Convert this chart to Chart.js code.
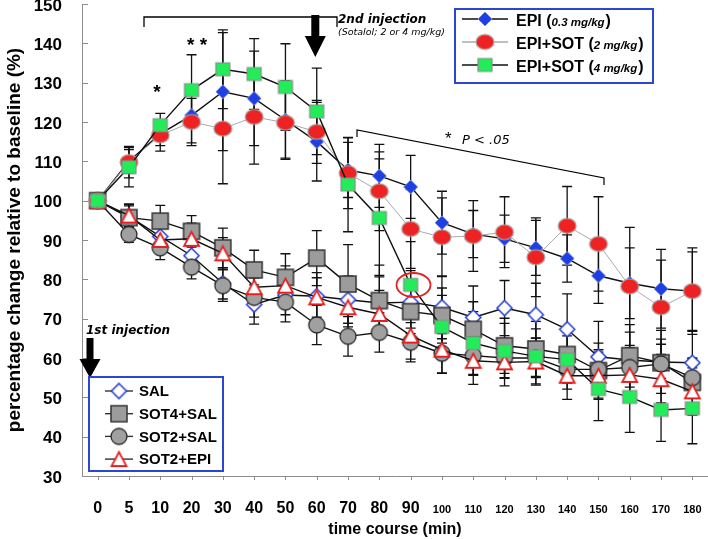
<!DOCTYPE html>
<html>
<head>
<meta charset="utf-8">
<script src="https://cdn.jsdelivr.net/npm/chart.js@4"></script>
<style>
  html, body { margin: 0; padding: 0; background: #fff; }
  #wrap { width: 708px; height: 539px; }
</style>
</head>
<body>
<div id="wrap"><canvas id="c" width="708" height="539"></canvas></div>
<script>
// time points (min)
const cats = ['0', '5', '10', '20', '30', '40', '50', '60', '70', '80', '90', '100', '110', '120', '130', '140', '150', '160', '170', '180'];

// % of baseline
const epi     = [100, 110, 117, 121.7, 127.7, 126, 120.5, 115, 107.8, 106.3, 103.5, 94.4, 91.5, 90.3, 88, 85.3, 80.9, 79, 77.6, 77];
const sot2    = [100, 109.8, 116.6, 120, 118.3, 121.3, 119.8, 117.5, 107, 102.4, 92.8, 90.7, 91, 92, 85.6, 93.6, 89, 78.2, 72.9, 77];
const sot4    = [100, 108.5, 119.2, 128.1, 133.4, 132.2, 128.9, 122.7, 104.1, 95.6, 78.6, 67.9, 63.8, 61.8, 60.4, 59.6, 52.1, 50.1, 46.8, 47.2];
const sal     = [100, 96, 90.9, 86, 79, 73.6, 76, 75.7, 74.8, 74, 74.2, 72.9, 70.3, 72.7, 71, 67.3, 60.3, 59.5, 59, 58.8];
const sot4sal = [100, 95.7, 94.8, 92.2, 88, 82.4, 80.5, 85.4, 78.8, 74.6, 71.8, 70.8, 67.3, 63.1, 62.3, 60.9, 56.8, 60.6, 58.8, 53.8];
const sot2sal = [100, 91.4, 88, 83.1, 78.4, 75.4, 74.2, 68.4, 65.5, 66.5, 64, 61.2, 60.6, 60, 60, 57.1, 57.1, 57.6, 58.5, 55];
const sot2epi = [100, 96.2, 90, 90.3, 86.6, 78, 78.4, 75.4, 72.9, 71.2, 65.7, 62.1, 59.3, 58.9, 59.1, 55.5, 55.5, 55.7, 54.6, 51.5];

// error bars (+/-)
const epiErr     = [0, 3, 3, 7, 15, 12, 10, 10, 7, 8, 8, 8, 6, 6, 7, 6, 7, 9, 10, 10];
const sot2Err    = [0, 4, 4, 6, 14, 12, 9, 8, 9, 10, 10, 10, 9, 9, 10, 10, 12, 15, 12, 11];
const sot4Err    = [0, 5, 3, 9, 10, 9, 11, 11, 12, 15, 11, 8, 8, 7, 7, 6, 8, 9, 8, 9];
const salErr     = [0, 3, 3, 4, 4, 5, 5, 6, 6, 7, 8, 8, 8, 7, 8, 9, 9, 9, 8, 8];
const sot4salErr = [0, 3, 4, 4, 5, 5, 6, 7, 10, 9, 8, 7, 7, 7, 7, 7, 7, 6, 6, 6];
const sot2salErr = [0, 2, 3, 3, 4, 5, 5, 5, 5, 5, 5, 5, 5, 5, 5, 5, 5, 5, 5, 5];
const sot2epiErr = [0, 3, 3, 4, 4, 5, 5, 5, 5, 6, 6, 6, 6, 6, 6, 6, 6, 6, 6, 6];

const yTicks = [30, 40, 50, 60, 70, 80, 90, 100, 110, 120, 130, 140, 150];

const FONT = "'Liberation Sans', Arial, Helvetica, sans-serif";
const NOTE = "'DejaVu Sans', Verdana, sans-serif";

function makeMarker(shape, w, h, fill, stroke, lw) {
  const pad = 2;
  const c = document.createElement('canvas');
  c.width = w + pad * 2;
  c.height = h + pad * 2;
  const g = c.getContext('2d');
  const cx = c.width / 2, cy = c.height / 2;
  g.beginPath();
  if (shape === 'diamond') {
    g.moveTo(cx, cy - h / 2); g.lineTo(cx + w / 2, cy); g.lineTo(cx, cy + h / 2); g.lineTo(cx - w / 2, cy);
    g.closePath();
  } else if (shape === 'ellipse') {
    g.ellipse(cx, cy, w / 2, h / 2, 0, 0, Math.PI * 2);
  } else if (shape === 'square') {
    g.rect(cx - w / 2, cy - h / 2, w, h);
  } else if (shape === 'triangle') {
    g.moveTo(cx, cy - h / 2); g.lineTo(cx + w / 2, cy + h / 2); g.lineTo(cx - w / 2, cy + h / 2);
    g.closePath();
  }
  g.fillStyle = fill;
  g.fill();
  g.lineWidth = lw;
  g.strokeStyle = stroke;
  g.stroke();
  return c;
}

const marks = {
  epi: makeMarker('diamond', 14, 14, '#1f3fe6', '#7f8fcf', 1),
  sot2: makeMarker('ellipse', 18, 15, '#ee2222', '#a9a9a9', 1.2),
  sot4: makeMarker('square', 14, 13, '#22ec5a', '#8e8e8e', 1.2),
  sal: makeMarker('diamond', 15, 15, '#ffffff', '#2b43d6', 1.6),
  sot4sal: makeMarker('square', 16, 16, '#9c9c9c', '#333333', 1.5),
  sot2sal: makeMarker('ellipse', 16, 16, '#a0a0a0', '#2a2a2a', 1.3),
  sot2epi: makeMarker('triangle', 15, 14, '#ffffff', '#e62020', 1.8)
};

function series(label, data, mark, lineColor, lineWidth, order) {
  return {
    label: label, data: data, pointStyle: mark,
    borderColor: lineColor, backgroundColor: lineColor, borderWidth: lineWidth,
    pointRadius: 8, pointHoverRadius: 8, tension: 0, fill: false, order: order
  };
}

const datasets = [
  series('EPI+SOT (4 mg/kg)', sot4, marks.sot4, '#111', 1.4, 0),
  series('EPI+SOT (2 mg/kg)', sot2, marks.sot2, '#aaaaaa', 1, 1),
  series('EPI (0.3 mg/kg)', epi, marks.epi, '#111', 1.4, 2),
  series('SOT2+EPI', sot2epi, marks.sot2epi, '#111', 1.4, 3),
  series('SOT2+SAL', sot2sal, marks.sot2sal, '#111', 1.4, 4),
  series('SOT4+SAL', sot4sal, marks.sot4sal, '#111', 1.4, 5),
  series('SAL', sal, marks.sal, '#111', 1.4, 6)
];
const errs = [sot4Err, sot2Err, epiErr, sot2epiErr, sot2salErr, sot4salErr, salErr];

const errorBars = {
  id: 'errorBars',
  beforeDatasetsDraw(chart) {
    const ctx = chart.ctx;
    const y = chart.scales.y;
    ctx.save();
    ctx.strokeStyle = '#111';
    ctx.lineWidth = 1.3;
    chart.data.datasets.forEach((ds, i) => {
      const meta = chart.getDatasetMeta(i);
      meta.data.forEach((pt, j) => {
        const e = errs[i][j];
        if (!e) return;
        const v = ds.data[j];
        const top = y.getPixelForValue(v + e);
        const bot = y.getPixelForValue(v - e);
        ctx.beginPath();
        ctx.moveTo(pt.x, top); ctx.lineTo(pt.x, bot);
        ctx.moveTo(pt.x - 5, top); ctx.lineTo(pt.x + 5, top);
        ctx.moveTo(pt.x - 5, bot); ctx.lineTo(pt.x + 5, bot);
        ctx.stroke();
      });
    });
    ctx.restore();
  }
};

const axisTicks = {
  id: 'axisTicks',
  beforeDatasetsDraw(chart) {
    const ctx = chart.ctx;
    const { x, y } = chart.scales;
    const a = chart.chartArea;
    ctx.save();
    ctx.strokeStyle = '#8c8c8c';
    ctx.lineWidth = 1;
    ctx.beginPath();
    yTicks.forEach(v => {
      if (v === 30) return;
      const py = Math.round(y.getPixelForValue(v)) + 0.5;
      ctx.moveTo(a.left, py); ctx.lineTo(a.left + 6, py);
    });
    cats.forEach((c, i) => {
      const px = Math.round(x.getPixelForValue(i)) + 0.5;
      ctx.moveTo(px, a.bottom); ctx.lineTo(px, a.bottom + 4);
    });
    ctx.stroke();
    ctx.restore();
  }
};

function arrowDown(ctx, cx, top, shaftEnd, tip, shaftW, headW) {
  ctx.beginPath();
  ctx.moveTo(cx - shaftW / 2, top);
  ctx.lineTo(cx + shaftW / 2, top);
  ctx.lineTo(cx + shaftW / 2, shaftEnd);
  ctx.lineTo(cx + headW / 2, shaftEnd);
  ctx.lineTo(cx, tip);
  ctx.lineTo(cx - headW / 2, shaftEnd);
  ctx.lineTo(cx - shaftW / 2, shaftEnd);
  ctx.closePath();
  ctx.fill();
}

const topLegend = [
  { mark: marks.epi, line: '#111', name: 'EPI', dose: '0.3 mg/kg' },
  { mark: marks.sot2, line: '#aaaaaa', name: 'EPI+SOT', dose: '2 mg/kg' },
  { mark: marks.sot4, line: '#111', name: 'EPI+SOT', dose: '4 mg/kg' }
];
const lowLegend = [
  { mark: marks.sal, name: 'SAL' },
  { mark: marks.sot4sal, name: 'SOT4+SAL' },
  { mark: marks.sot2sal, name: 'SOT2+SAL' },
  { mark: marks.sot2epi, name: 'SOT2+EPI' }
];

const notes = {
  id: 'notes',
  afterDraw(chart) {
    const ctx = chart.ctx;
    ctx.save();
    ctx.fillStyle = '#000';
    ctx.strokeStyle = '#000';

    // bracket over the 2nd injection window
    ctx.lineWidth = 1.3;
    ctx.beginPath();
    ctx.moveTo(144, 27); ctx.lineTo(144, 17); ctx.lineTo(337, 17); ctx.lineTo(337, 27);
    ctx.stroke();
    arrowDown(ctx, 315.3, 15, 36, 57, 8, 21);

    ctx.textBaseline = 'middle';
    ctx.textAlign = 'left';
    ctx.font = 'italic bold 12px ' + NOTE;
    ctx.fillText('2nd injection', 338, 20);
    ctx.font = 'italic 9.5px ' + NOTE;
    ctx.fillText('(Sotalol; 2 or 4 mg/kg)', 338, 33);

    ctx.font = 'bold 19px ' + FONT;
    ctx.textAlign = 'center';
    ctx.fillText('*', 157, 93);
    ctx.fillText('* *', 197, 46);

    // 1st injection
    ctx.textAlign = 'left';
    ctx.font = 'italic bold 12px ' + NOTE;
    ctx.fillText('1st injection', 86, 331);
    arrowDown(ctx, 90, 338, 359, 378, 7, 21);

    // significance bracket
    ctx.lineWidth = 1.2;
    ctx.beginPath();
    ctx.moveTo(357, 137); ctx.lineTo(357, 130); ctx.lineTo(604, 178); ctx.lineTo(604, 185);
    ctx.stroke();
    ctx.font = '17px ' + FONT;
    ctx.fillText('*', 445, 139);
    ctx.font = 'italic 13px ' + NOTE;
    ctx.fillText('P < .05', 462, 141);

    // red ring round the 90 min point
    ctx.strokeStyle = '#e42020';
    ctx.lineWidth = 1.8;
    ctx.beginPath();
    ctx.ellipse(413.5, 285, 17, 12, 0, 0, Math.PI * 2);
    ctx.stroke();

    // upper legend
    ctx.fillStyle = '#fff';
    ctx.fillRect(455, 9, 198, 74);
    ctx.strokeStyle = '#2a46d8';
    ctx.lineWidth = 2;
    ctx.strokeRect(455, 9, 198, 74);
    topLegend.forEach((it, i) => {
      const ty = 22 + i * 23;
      const my = ty - 3;
      ctx.strokeStyle = it.line;
      ctx.lineWidth = 1.4;
      ctx.beginPath(); ctx.moveTo(462, my); ctx.lineTo(508, my); ctx.stroke();
      ctx.drawImage(it.mark, 485 - it.mark.width / 2, my - it.mark.height / 2);
      ctx.fillStyle = '#000';
      let x = 516;
      ctx.font = 'bold 16px ' + FONT;
      ctx.fillText(it.name + ' (', x, ty);
      x += ctx.measureText(it.name + ' (').width;
      ctx.font = 'italic bold 11.5px ' + FONT;
      ctx.fillText(it.dose, x, ty + 1);
      x += ctx.measureText(it.dose).width + 1;
      ctx.font = 'bold 16px ' + FONT;
      ctx.fillText(')', x, ty);
    });

    // lower legend
    ctx.fillStyle = '#fff';
    ctx.fillRect(89, 377, 134, 94);
    ctx.strokeStyle = '#2a46d8';
    ctx.lineWidth = 2;
    ctx.strokeRect(89, 377, 134, 94);
    lowLegend.forEach((it, i) => {
      const ty = 391 + i * 22.7;
      ctx.strokeStyle = '#333';
      ctx.lineWidth = 1.4;
      ctx.beginPath(); ctx.moveTo(105, ty); ctx.lineTo(133, ty); ctx.stroke();
      ctx.drawImage(it.mark, 119 - it.mark.width / 2, ty - it.mark.height / 2);
      ctx.fillStyle = '#000';
      ctx.font = 'bold 15px ' + FONT;
      ctx.fillText(it.name, 139, ty + 1);
    });
    ctx.restore();
  }
};

new Chart(document.getElementById('c'), {
  type: 'line',
  data: { labels: cats, datasets: datasets },
  options: {
    responsive: false,
    animation: false,
    events: [],
    layout: { autoPadding: false, padding: { top: 4, right: 0, bottom: 0, left: 0 } },
    plugins: { legend: { display: false }, tooltip: { enabled: false } },
    scales: {
      x: {
        offset: true,
        grid: { display: false, drawTicks: false },
        border: { display: true, color: '#8c8c8c', width: 1 },
        ticks: {
          autoSkip: false, maxRotation: 0, padding: 23, color: '#000',
          font: (c) => c.index >= 11
            ? { family: FONT, size: 11, weight: 'bold', lineHeight: 2.0 }
            : { family: FONT, size: 16, weight: 'bold', lineHeight: 1.2 }
        },
        title: {
          display: true, text: 'time course (min)', color: '#000',
          font: { family: FONT, size: 16, weight: 'bold' },
          padding: { top: 0, bottom: 0 }
        },
        afterFit(s) { s.height = 63; s.paddingLeft = 0; s.paddingRight = 0; }
      },
      y: {
        min: 30, max: 150,
        grid: { display: false, drawTicks: false },
        border: { display: true, color: '#8c8c8c', width: 1 },
        ticks: {
          stepSize: 10, padding: 20, color: '#000', labelOffset: 2,
          font: { family: FONT, size: 17, weight: 'bold' }
        },
        title: {
          display: true, text: 'percentage change relative to baseline (%)', color: '#000',
          font: { family: FONT, size: 19, weight: 'bold' },
          padding: { top: 3, bottom: 0 }
        },
        afterFit(s) { s.width = 82; s.paddingTop = 0; s.paddingBottom = 0; }
      }
    }
  },
  plugins: [errorBars, axisTicks, notes]
});
</script>
</body>
</html>
